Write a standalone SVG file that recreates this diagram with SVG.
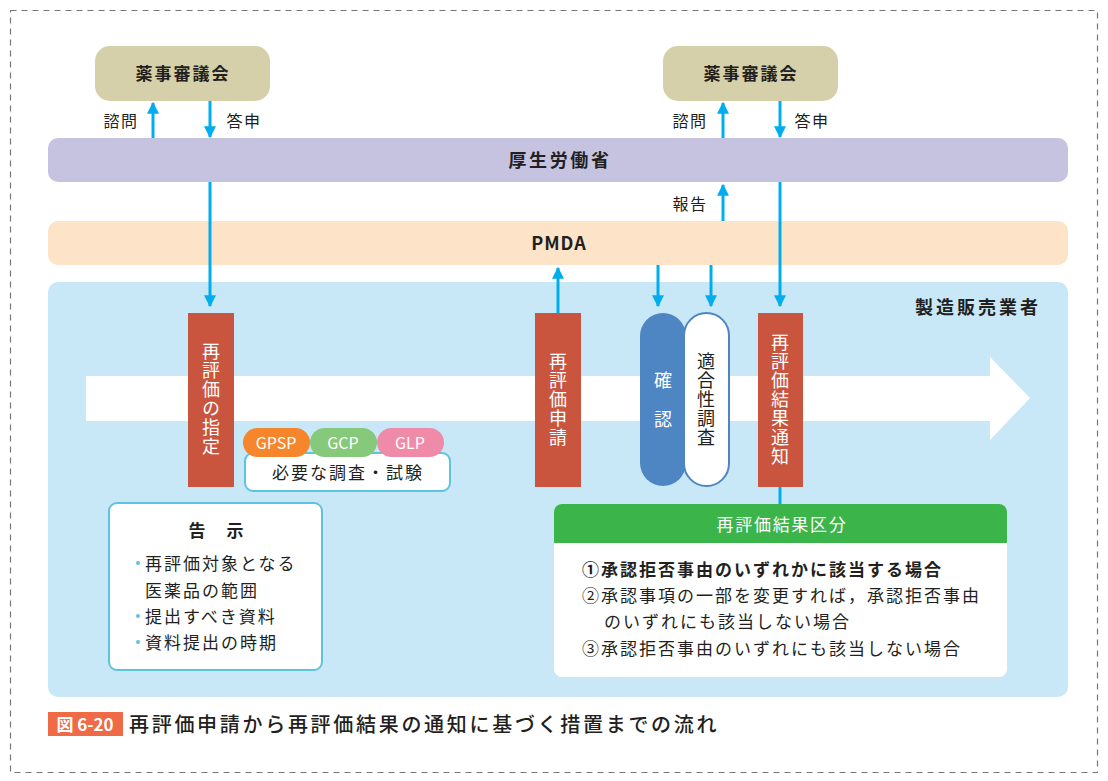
<svg xmlns="http://www.w3.org/2000/svg" width="1108" height="781" viewBox="0 0 1108 781">
<defs>
<marker id="ah" viewBox="0 0 10 10" refX="9" refY="5" markerWidth="4" markerHeight="4" orient="auto" markerUnits="strokeWidth">
<path d="M0,0 L10,5 L0,10 z" fill="#00aeef"/>
</marker>
<style>
text{font-family:"Noto Sans CJK JP","Noto Sans",sans-serif;fill:#231f20}
.b{font-weight:bold}
.lbl{font-size:16px;letter-spacing:1.5px}
.vt{font-size:18px;fill:#fff;writing-mode:vertical-rl;text-orientation:upright;letter-spacing:1px}
.vd{font-size:18px;fill:#231f20;writing-mode:vertical-rl;text-orientation:upright;letter-spacing:1px}
.con{stroke:#00aeef;stroke-width:3;fill:none;marker-end:url(#ah)}
.red{fill:#c9553f}
.sm{font-size:17px;letter-spacing:2px}
.ttl{font-size:17px;letter-spacing:2px;font-weight:bold}
</style>
</defs>
<rect x="0" y="0" width="1108" height="781" fill="#fff"/>
<rect x="10.5" y="10.5" width="1087" height="762" fill="none" stroke="#777" stroke-width="1.2" stroke-dasharray="6,5"/>

<g id="manufacturer">
<rect x="48" y="282" width="1020" height="415" rx="10" fill="#c8e8f7"/>
<text x="1041" y="314" font-size="18" letter-spacing="3" class="b" text-anchor="end">製造販売業者</text>
<path d="M86,376 H990 V357 L1030,398 L990,440 V421 H86 z" fill="#fff"/>
</g>

<g id="council1">
<rect x="95" y="46" width="175" height="55" rx="15" fill="#d5d0a9"/>
<text x="183" y="80" class="ttl" text-anchor="middle">薬事審議会</text>
</g>
<g id="council2">
<rect x="663" y="46" width="175" height="55" rx="15" fill="#d5d0a9"/>
<text x="751" y="80" class="ttl" text-anchor="middle">薬事審議会</text>
</g>

<g id="mhlw">
<rect x="48" y="138" width="1020" height="44" rx="10" fill="#c6c3e0"/>
<text x="560" y="167" class="b" font-size="18" letter-spacing="2.6" text-anchor="middle">厚生労働省</text>
</g>

<g id="pmda">
<rect x="48" y="221" width="1020" height="44" rx="10" fill="#fde3c8"/>
<text x="559" y="250" class="b" font-size="18" letter-spacing="1" text-anchor="middle">PMDA</text>
</g>

<g id="connectors">
<line x1="153" y1="138" x2="153" y2="103" class="con"/>
<line x1="210" y1="101" x2="210" y2="137" class="con"/>
<line x1="723" y1="138" x2="723" y2="103" class="con"/>
<line x1="780" y1="101" x2="780" y2="137" class="con"/>
<line x1="723" y1="221" x2="723" y2="185" class="con"/>
<line x1="210" y1="182" x2="210" y2="306" class="con"/>
<line x1="780" y1="182" x2="780" y2="306" class="con"/>
<line x1="558" y1="313" x2="558" y2="268" class="con"/>
<line x1="658" y1="265" x2="658" y2="306" class="con"/>
<line x1="711" y1="265" x2="711" y2="306" class="con"/>
<line x1="780" y1="487" x2="780" y2="505" stroke="#00aeef" stroke-width="3"/>
<text x="121" y="127" class="lbl" text-anchor="middle">諮問</text>
<text x="244" y="127" class="lbl" text-anchor="middle">答申</text>
<text x="690" y="127" class="lbl" text-anchor="middle">諮問</text>
<text x="812" y="127" class="lbl" text-anchor="middle">答申</text>
<text x="690" y="210" class="lbl" text-anchor="middle">報告</text>
</g>

<g id="designation">
<rect x="188" y="313" width="46" height="174" class="red"/>
<text x="211" y="342" class="vt">再評価の指定</text>
</g>

<g id="tests">
<rect x="245" y="453" width="205" height="38" rx="8" fill="#fff" stroke="#5cc3e0" stroke-width="2"/>
<text x="348" y="479" class="sm" text-anchor="middle">必要な調査・試験</text>
<rect x="243" y="428" width="67" height="29" rx="14.5" fill="#f5862b"/>
<rect x="310" y="428" width="67" height="29" rx="14.5" fill="#86c97a"/>
<rect x="377" y="428" width="67" height="29" rx="14.5" fill="#f08aa9"/>
<text x="276" y="449" font-size="16" text-anchor="middle" style="fill:#fff">GPSP</text>
<text x="343" y="449" font-size="16" text-anchor="middle" style="fill:#fff">GCP</text>
<text x="410" y="449" font-size="16" text-anchor="middle" style="fill:#fff">GLP</text>
</g>

<g id="notice">
<rect x="109" y="503" width="213" height="167" rx="8" fill="#fff" stroke="#5cc3e0" stroke-width="2"/>
<text x="217" y="537" class="ttl" text-anchor="middle">告　示</text>
<text class="sm"><tspan x="145" y="570">再評価対象となる</tspan><tspan x="145" y="597">医薬品の範囲</tspan><tspan x="145" y="623">提出すべき資料</tspan><tspan x="145" y="649">資料提出の時期</tspan></text>
<circle cx="138" cy="563" r="2" fill="#5cc3e0"/>
<circle cx="138" cy="616" r="2" fill="#5cc3e0"/>
<circle cx="138" cy="642" r="2" fill="#5cc3e0"/>
</g>

<g id="application">
<rect x="535" y="313" width="46" height="174" class="red"/>
<text x="558" y="352" class="vt">再評価申請</text>
</g>

<g id="confirm">
<rect x="640" y="313" width="46" height="173" rx="23" fill="#4e86c4"/>
<text x="663" y="371" class="vt" style="letter-spacing:21px">確認</text>
</g>

<g id="compliance">
<rect x="684" y="313" width="45" height="173" rx="22.5" fill="#fff" stroke="#4e86c4" stroke-width="2"/>
<text x="706" y="352" class="vd">適合性調査</text>
</g>

<g id="result-notice">
<rect x="758" y="313" width="45" height="174" class="red"/>
<text x="780" y="333" class="vt">再評価結果通知</text>
</g>

<g id="result-category">
<rect x="554" y="504" width="453" height="173" rx="8" fill="#fff"/>
<path d="M554,543 V512 a8,8 0 0 1 8,-8 H999 a8,8 0 0 1 8,8 V543 z" fill="#3bb44a"/>
<text x="782" y="531" font-size="17" letter-spacing="1.7" text-anchor="middle" style="fill:#fff">再評価結果区分</text>
<text class="sm"><tspan x="582" y="576" font-weight="bold">①承認拒否事由のいずれかに該当する場合</tspan><tspan x="582" y="602">②承認事項の一部を変更すれば，承認拒否事由</tspan><tspan x="604" y="628">のいずれにも該当しない場合</tspan><tspan x="582" y="655">③承認拒否事由のいずれにも該当しない場合</tspan></text>
</g>

<g id="caption">
<rect x="48" y="712" width="75" height="24" fill="#ef6a46"/>
<text x="85" y="731" class="b" font-size="17" text-anchor="middle" style="fill:#fff">図 6-20</text>
<text x="129" y="732" font-size="20" letter-spacing="2.7" font-weight="500">再評価申請から再評価結果の通知に基づく措置までの流れ</text>
</g>
</svg>
